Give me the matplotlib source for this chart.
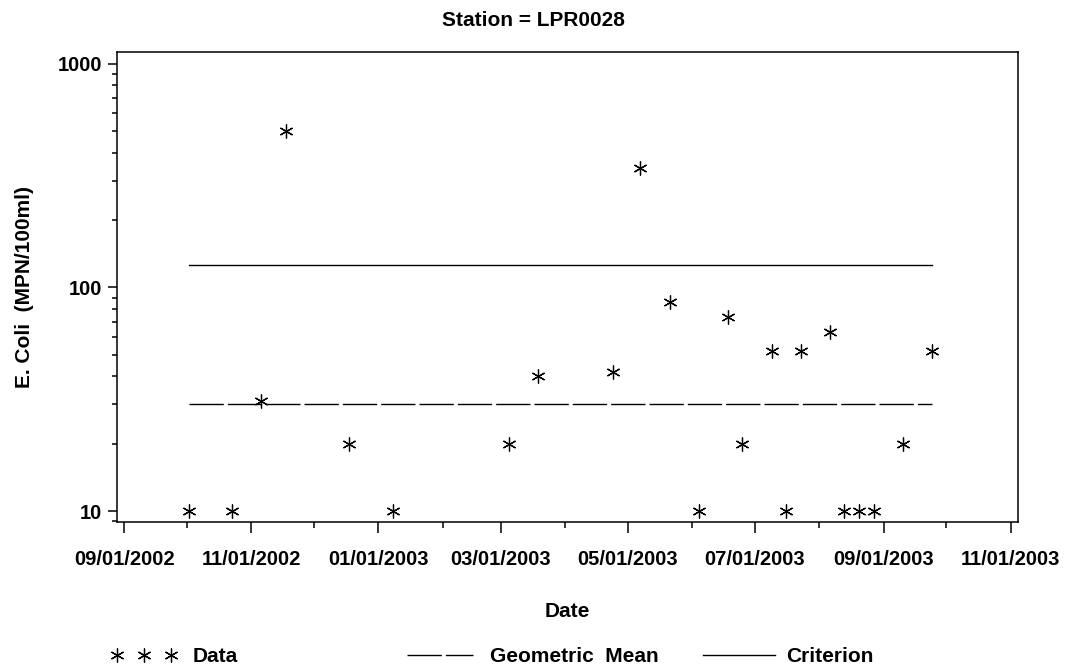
import numpy as np
import pandas as pd
import matplotlib
matplotlib.use("Agg")
import matplotlib.pyplot as plt
import matplotlib.dates as mdates
from matplotlib.ticker import LogLocator, NullFormatter, FixedLocator, FixedFormatter

# sample dates and E. coli counts
dates = ['2002-10-02', '2002-10-23', '2002-11-06', '2002-11-18', '2002-12-18',
         '2003-01-08', '2003-03-05', '2003-03-19', '2003-04-24', '2003-05-07',
         '2003-05-21', '2003-06-04', '2003-06-18', '2003-06-25', '2003-07-09',
         '2003-07-16', '2003-07-23', '2003-08-06', '2003-08-13', '2003-08-20',
         '2003-08-27', '2003-09-10', '2003-09-24']
ecoli = [10, 10, 31, 500, 20, 10, 20, 40, 42, 340, 86, 10, 74, 20, 52,
         10, 52, 63, 10, 10, 10, 20, 52]
geo_mean = 30
criterion = 126
y_ticks = [10, 100, 1000]
y_ticklabels = ['10', '100', '1000']

df = pd.DataFrame({'date': pd.to_datetime(dates), 'ecoli': ecoli})

plt.rcParams['font.family'] = ['Liberation Sans', 'DejaVu Sans']
plt.rcParams['font.weight'] = 'bold'
plt.rcParams['axes.labelweight'] = 'bold'
plt.rcParams['text.color'] = 'black'

fig = plt.figure(figsize=(10.66, 6.71), dpi=100)
ax = fig.add_axes([117 / 1066, 1 - 522 / 671, 901 / 1066, 470 / 671])

data_line, = ax.plot(df['date'], df['ecoli'], linestyle='none', marker=(6, 2, 0),
                     markersize=10, markeredgewidth=0.9, color='black', label='Data')
span = [df['date'].iloc[0], df['date'].iloc[-1]]
gm_line, = ax.plot(span, [geo_mean, geo_mean], color='black', linewidth=1.0,
                   dashes=(24.7, 2.9), label='Geometric  Mean')
crit_line, = ax.plot(span, [criterion, criterion], color='black', linewidth=1.0,
                     label='Criterion')

ax.set_yscale('log')
ax.set_ylim(8.93, 1128)
ax.yaxis.set_major_locator(FixedLocator(y_ticks))
ax.yaxis.set_major_formatter(FixedFormatter(y_ticklabels))
ax.yaxis.set_minor_locator(LogLocator(base=10, subs=np.arange(2, 10)))
ax.yaxis.set_minor_formatter(NullFormatter())

x0 = mdates.date2num(pd.Timestamp('2002-09-01')) - 3.4
x1 = mdates.date2num(pd.Timestamp('2003-11-01')) + 3.4
ax.set_xlim(x0, x1)
ax.xaxis.set_major_locator(mdates.MonthLocator(bymonth=[1, 3, 5, 7, 9, 11]))
ax.xaxis.set_minor_locator(mdates.MonthLocator())
ax.xaxis.set_major_formatter(mdates.DateFormatter('%m/%d/%Y'))

ax.tick_params(axis='x', which='major', direction='out', length=8, width=1.1,
               pad=12, labelsize=14.5)
ax.tick_params(axis='x', which='minor', direction='out', length=4.3, width=1.1)
ax.tick_params(axis='y', which='major', direction='out', length=6.5, width=1.1,
               pad=4, labelsize=14.5)
ax.tick_params(axis='y', which='minor', direction='out', length=3.6, width=1.1)
for s in ax.spines.values():
    s.set_linewidth(1.1)

ax.set_xlabel('Date', fontsize=15)
ax.xaxis.set_label_coords(0.5, -0.17)
ax.set_ylabel('E. Coli  (MPN/100ml)', fontsize=15)
ax.yaxis.set_label_coords(-0.092, 0.5)
fig.suptitle('Station = LPR0028', fontsize=15, fontweight='bold', x=0.5,
             y=1 - 21 / 671, va='center')

# three separate legend entries along the bottom
leg_y = 1 - 657 / 671
fig.legend(handles=[data_line], loc='center left', bbox_to_anchor=(111 / 1066, leg_y),
           frameon=False, fontsize=15, numpoints=3, handlelength=3.2,
           handletextpad=0.7, borderpad=0, borderaxespad=0)
fig.legend(handles=[gm_line], loc='center left', bbox_to_anchor=(407 / 1066, leg_y),
           frameon=False, fontsize=15, handlelength=3.15, handletextpad=0.85,
           borderpad=0, borderaxespad=0)
fig.legend(handles=[crit_line], loc='center left', bbox_to_anchor=(703 / 1066, leg_y),
           frameon=False, fontsize=15, handlelength=3.45, handletextpad=0.55,
           borderpad=0, borderaxespad=0)

plt.savefig('out.png', dpi=100)
